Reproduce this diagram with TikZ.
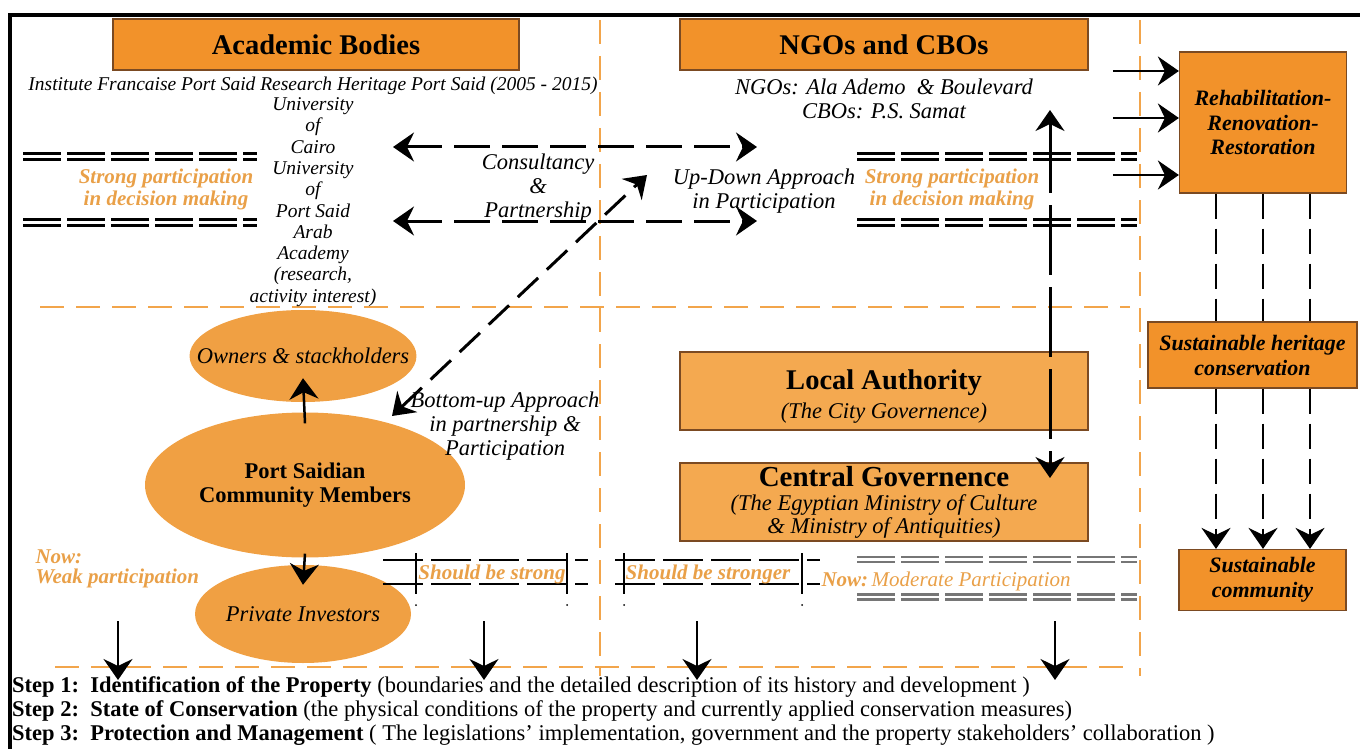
\documentclass[tikz,border=0pt]{standalone}
\usepackage{fontspec}
\setmainfont{Liberation Serif}
\usetikzlibrary{arrows.meta,shapes.geometric}
\definecolor{boxorange}{HTML}{F2922A}
\definecolor{lightorange}{HTML}{F4A950}
\definecolor{blobfill}{HTML}{F0A043}
\definecolor{edgebrown}{HTML}{7B4A22}
\definecolor{txtorange}{HTML}{E9A048}
\definecolor{lineorange}{HTML}{F2A54B}
\definecolor{midgray}{HTML}{767676}
\newcommand{\fsz}[2]{\fontsize{#1}{#2}\selectfont}
\begin{document}
\begin{tikzpicture}[x=1pt, y=-1pt,
  >={Stealth[length=21pt,width=29pt,inset=7pt]},
  box/.style={draw=edgebrown, fill=boxorange, line width=1.2pt, inner sep=0pt, align=center},
  lightbox/.style={box, fill=lightorange},
  blob/.style={ellipse, fill=blobfill, inner xsep=-26pt, inner ysep=0pt, align=center},
  orangetxt/.style={text=txtorange, font=\fsz{21}{22}\bfseries\itshape, align=center},
  plaintxt/.style={font=\fsz{22.5}{24}\itshape, align=center},
  divider/.style={lineorange, line width=2.5pt, dash pattern=on 24pt off 12pt},
  dblline/.style={line width=2.6pt, double=white, double distance=3.8pt, dash pattern=on 38pt off 6pt},
  dasharrow/.style={line width=3pt, dash pattern=on 36pt off 12pt},
  solidarrow/.style={line width=2.5pt}]
\useasboundingbox (0,0) rectangle (1360,749);
\draw[line width=3.5pt] (10,760) -- (10,15) -- (1370,15);

\draw[divider] (600,20) -- (600,676);
\draw[divider] (1140,20) -- (1140,676);
\draw[divider] (40,307) -- (1130,307);
\draw[divider] (55,667) -- (1130,667);

\node[box, minimum width=406pt, minimum height=51pt, font=\fsz{28.5}{30}\bfseries] (academic) at (316,44.5) {Academic Bodies};
\node[box, minimum width=408pt, minimum height=51pt, font=\fsz{28.5}{30}\bfseries] (ngo) at (884,44.5) {NGOs and CBOs};
\node[lightbox, minimum width=408pt, minimum height=78pt] (local) at (884,391) {};
\node[align=center, inner sep=0pt] (localtext) at (884,396.5)
  {{\fsz{28.5}{30}\bfseries Local Authority}\\[7pt]\fsz{22.5}{24}\itshape (The City Governence)};
\node[lightbox, minimum width=408pt, minimum height=78pt, font=\fsz{22.5}{23}\itshape] (central) at (884,502)
  {{\fsz{29}{26}\bfseries\upshape Central Governence}\\[1pt](The Egyptian Ministry of Culture\\\& Ministry of Antiquities)};
\node[box, minimum width=167pt, minimum height=141pt, font=\fsz{22}{24.5}\bfseries\itshape] (rehab) at (1263,122.5) {Rehabilitation-\\Renovation-\\Restoration};
\node[box, minimum width=209pt, minimum height=66pt, font=\fsz{22}{25}\bfseries\itshape] (heritage) at (1252.5,355) {Sustainable heritage\\conservation};
\node[box, minimum width=167pt, minimum height=61pt, font=\fsz{22}{25}\bfseries\itshape] (community) at (1262.5,580) {Sustainable\\community};

\node[blob, minimum width=216pt, minimum height=92pt, font=\fsz{22.5}{24}\itshape] (owners) at (303,356) {Owners \& stackholders};
\node[blob, minimum width=320pt, minimum height=145pt, font=\fsz{22.5}{24}\bfseries] (members) at (305,485) {Port Saidian\\Community Members};
\node[blob, minimum width=216pt, minimum height=98pt, font=\fsz{22.5}{24}\itshape] (investors) at (303,614) {Private Investors};

\node[font=\fsz{19.5}{20}\itshape] (institute) at (313,86) {Institute Francaise Port Said Research Heritage Port Said (2005 - 2015)};
\node[font=\fsz{19.5}{21.3}\itshape, align=center] (univ) at (313,202)
  {University\\of\\Cairo\\University\\of\\Port Said\\Arab\\Academy\\(research,\\activity interest)};
\node[plaintxt] (ngotext) at (884,99) {NGOs: Ala Ademo\ \ \& Boulevard\\CBOs: P.S. Samat};
\node[plaintxt] (consult) at (538,188) {Consultancy\\\&\\Partnership};
\node[plaintxt] (updown) at (764,191) {Up-Down Approach\\in Participation};
\node[plaintxt] (bottomup) at (505,426) {Bottom-up Approach\\in partnership \&\\Participation};
\node[orangetxt] (strongleft) at (166,189) {Strong participation\\in decision making};
\node[orangetxt] (strongright) at (952,189) {Strong participation\\in decision making};
\node[orangetxt, align=left, anchor=west, font=\fsz{21}{20}\bfseries\itshape] (weak) at (32,569) {Now:\\Weak participation};

\draw[dblline] (23,156.5) -- (257,156.5);
\draw[dblline] (23,222.5) -- (257,222.5);
\draw[dblline] (857,156.5) -- (1137,156.5);
\draw[dblline] (857,222.5) -- (1137,222.5);
\draw[dblline, draw=midgray, line width=2.6pt, double distance=2.4pt] (857,559.5) -- (1137,559.5);
\draw[dblline, draw=midgray, line width=2.6pt, double distance=2.4pt] (857,597) -- (1137,597);

\foreach \xa/\xb/\ta/\tb in {383/588/416/567, 615/820/624/802} {
  \draw[line width=2.6pt, dash pattern=on 40pt off 8pt] (\xa,560) -- (\xb,560);
  \draw[line width=2.6pt, dash pattern=on 40pt off 8pt] (\xa,584) -- (\xb,584);
  \draw[line width=2.6pt] (\ta,553) -- (\ta,594);
  \draw[line width=2.6pt] (\tb,553) -- (\tb,594);
  \fill (\ta,605) circle (1pt);
  \fill (\tb,605) circle (1pt);
}
\node[orangetxt] (strongtxt) at (492,574) {Should be strong};
\node[orangetxt] (strongertxt) at (708,574) {Should be stronger};
\node[anchor=west, text=txtorange, font=\fsz{21}{24}\itshape] (moderate) at (818,581) {\textbf{Now:}\,Moderate Participation};

\coordinate (cl1) at (393,147);
\coordinate (cr1) at (757,147);
\coordinate (cl2) at (393,221);
\coordinate (cr2) at (757,221);
\draw[dasharrow, <->] (cl1) -- (cr1);
\draw[dasharrow, <->] (cl2) -- (cr2);
\coordinate (dgup) at (647,175);
\coordinate (dglow) at (392,416);
\draw[dasharrow, dash pattern=on 28pt off 12pt, <->] (dglow) -- (dgup);
\coordinate (vtop) at (1050,110);
\coordinate (vbot) at (1050,478);
\draw[dasharrow, dash pattern=on 70pt off 12pt, <->] (vtop) -- (vbot);

\draw[solidarrow, ->] ([yshift=-11pt]members.north) -- ([yshift=24pt]owners.south);
\draw[solidarrow, ->] ([yshift=4pt]members.south) -- ([yshift=-20pt]investors.north);

\foreach \dy in {51.5,4.5,-52.5}
  \draw[solidarrow, ->] ([xshift=-66pt, yshift=\dy pt]rehab.west) -- ([yshift=\dy pt]rehab.west);
\foreach \dx in {-47,0,47} {
  \draw[solidarrow, dash pattern=on 25pt off 10pt] ([xshift=\dx pt]rehab.south) -- ([xshift=\dx pt]rehab.south |- heritage.north);
  \draw[solidarrow, dash pattern=on 25pt off 10pt, ->] ([xshift=\dx pt]rehab.south |- heritage.south) -- ([xshift=\dx pt]rehab.south |- community.north);
}

\foreach \x [count=\i] in {118,484,697,1055} {
  \coordinate (down\i) at (\x,621);
  \coordinate (step\i) at (\x,680);
  \draw[solidarrow, ->] (down\i) -- (step\i);
}

\node[anchor=west, inner sep=0pt, font=\fsz{22.5}{24}] (stepa) at (12,687) {\textbf{Step 1:\ \ Identification of the Property} (boundaries and the detailed description of its history and development )};
\node[anchor=west, inner sep=0pt, font=\fsz{22.5}{24}] (stepb) at (12,711) {\textbf{Step 2:\ \ State of Conservation} (the physical conditions of the property and currently applied conservation measures)};
\node[anchor=west, inner sep=0pt, font=\fsz{22.5}{24}] (stepc) at (12,735) {\textbf{Step 3:\ \ Protection and Management} ( The legislations' implementation, government and the property stakeholders' collaboration )};
\end{tikzpicture}
\end{document}
